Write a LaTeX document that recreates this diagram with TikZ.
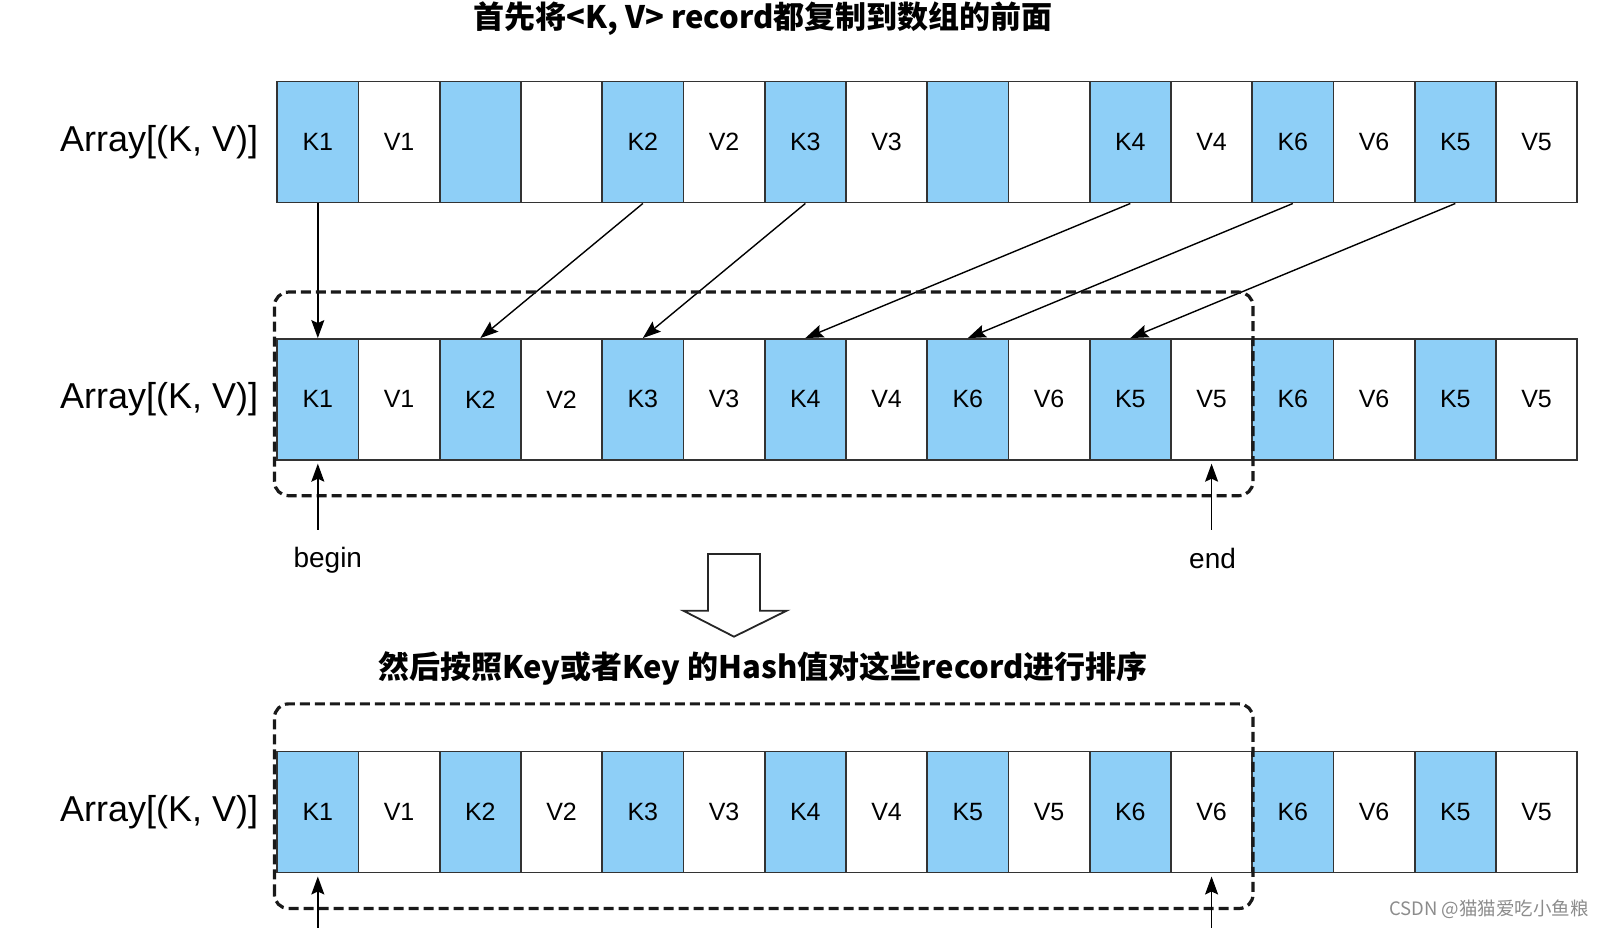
\documentclass[tikz,border=0pt]{standalone}
\usepackage{fontspec}
\setmainfont{Liberation Sans}
\newfontfamily\cjk{Noto Sans CJK SC}
\usetikzlibrary{positioning,calc,arrows.meta}

\definecolor{keyblue}{HTML}{8ECFF7}
\definecolor{cellline}{HTML}{333333}

\tikzset{
    cell/.style={rectangle, draw=cellline, line width=1.6pt, minimum width=81.25pt, minimum height=121pt, inner sep=0pt, font=\fontsize{25}{29}\selectfont},
    kcell/.style={cell, fill=keyblue},
    vcell/.style={cell, fill=white},
    rowlabel/.style={inner sep=0pt, font=\fontsize{36}{40}\selectfont},
    headline/.style={inner sep=0pt, font=\cjk\bfseries\fontsize{31}{35}\selectfont},
    tag/.style={inner sep=0pt, font=\fontsize{28}{32}\selectfont},
    movearrow/.style={-{Stealth[length=18pt,width=13pt,inset=3pt]}, line width=1.4pt},
    winbox/.style={draw=black!90, line width=3.2pt, dash pattern=on 10pt off 5pt, rounded corners=14pt}
}

\begin{document}
\begin{tikzpicture}[x=1pt, y=1pt]
    \useasboundingbox (0,0) rectangle (1610,928);

    \node (title1) [headline] at (763,909.5) {首先将<K, V> record都复制到数组的前面};

    % the three arrays
    \foreach \t [count=\i from 0] in {K1,V1,{},{},K2,V2,K3,V3,{},{},K4,V4,K6,V6,K5,V5} {
        \ifodd\i \def\st{vcell}\else\def\st{kcell}\fi
        \node (r1c\i) [\st] at (317.825+81.25*\i, 785.8) {\t};
    }
    \foreach \t [count=\i from 0] in {K1,V1,K2,V2,K3,V3,K4,V4,K6,V6,K5,V5,K6,V6,K5,V5} {
        \ifodd\i \def\st{vcell}\else\def\st{kcell}\fi
        \node (r2c\i) [\st] at (317.825+81.25*\i, 528.6) {\t};
    }
    \foreach \t [count=\i from 0] in {K1,V1,K2,V2,K3,V3,K4,V4,K5,V5,K6,V6,K6,V6,K5,V5} {
        \ifodd\i \def\st{vcell}\else\def\st{kcell}\fi
        \node (r3c\i) [\st] at (317.825+81.25*\i, 115.8) {\t};
    }

    \node (lab1) [rowlabel, left=18pt of r1c0] {Array[(K, V)]};
    \node (lab2) [rowlabel, left=18pt of r2c0] {Array[(K, V)]};
    \node (lab3) [rowlabel, left=18pt of r3c0] {Array[(K, V)]};

    % copy records to the front
    \foreach \a/\b in {0/0,4/2,6/4,10/6,12/8,14/10}
        \draw [movearrow] (r1c\a.south) -- (r2c\b.north);

    \draw [winbox] ($(r2c0.south west)+(-2,-35)$) rectangle ($(r2c11.north east)+(0,46)$);
    \draw [winbox] ($(r3c0.south west)+(-2,-35)$) rectangle ($(r3c11.north east)+(0,47)$);

    % begin / end pointers
    \coordinate (bgtail) at ($(r2c0.south)+(0,-69)$);
    \coordinate (edtail) at ($(r2c11.south)+(0,-69)$);
    \draw [movearrow, shorten >=3pt] (bgtail) -- (r2c0.south);
    \draw [movearrow, shorten >=3pt] (edtail) -- (r2c11.south);
    \node (lblbegin) [tag] at ($(bgtail)+(10,-31)$) {begin};
    \node (lblend) [tag] at ($(edtail)+(1,-29)$) {end};

    \coordinate (bgtail2) at ($(r3c0.south)+(0,-56)$);
    \coordinate (edtail2) at ($(r3c11.south)+(0,-56)$);
    \draw [movearrow, shorten >=3pt] (bgtail2) -- (r3c0.south);
    \draw [movearrow, shorten >=3pt] (edtail2) -- (r3c11.south);

    % hollow down arrow
    \draw [line width=1.8pt, draw=black!85, fill=white] (708,374) -- (708,317.3) -- (683.3,317.3) -- (734,291.3)
        -- (786.7,317.3) -- (760,317.3) -- (760,374) -- cycle;

    \node (title2) [headline] at (763,259.5) {然后按照Key或者Key 的Hash值对这些record进行排序};

    \node (mark) [inner sep=0pt, text=black!45, font=\cjk\fontsize{18.5}{22}\selectfont] at (1489,19) {CSDN @猫猫爱吃小鱼粮};
\end{tikzpicture}
\end{document}
